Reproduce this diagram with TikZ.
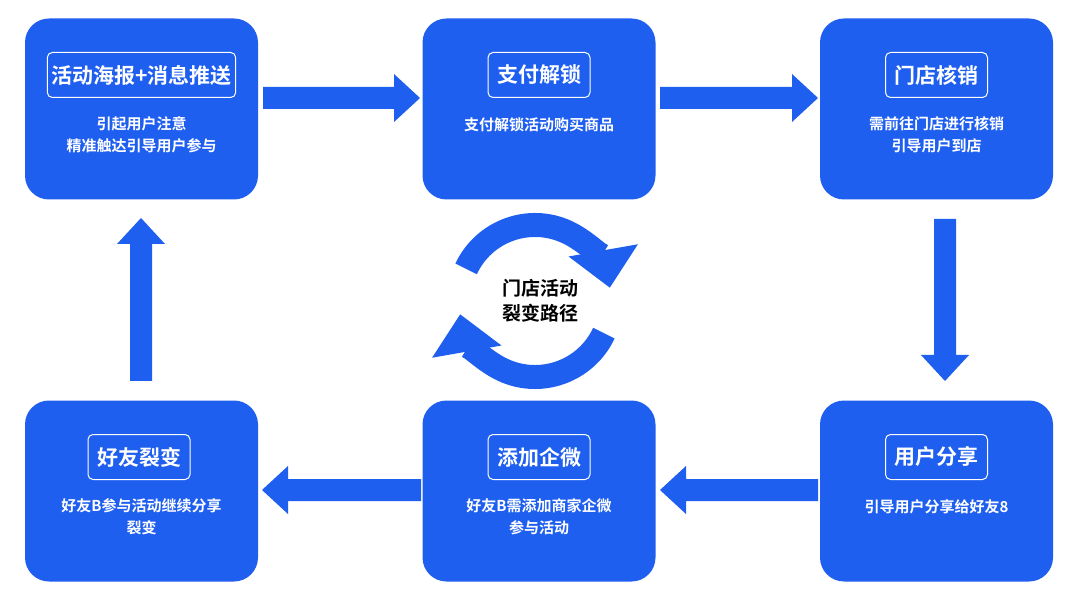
\documentclass[tikz,border=0pt]{standalone}
\usepackage{fontspec}
\setmainfont{Noto Sans CJK SC}[BoldFont={Noto Sans CJK SC Bold}]
\usetikzlibrary{arrows.meta,calc}
\definecolor{bl}{HTML}{1F5FF0}
\newcommand{\blockarrow}[4]{% x, y (start), angle, length
 \begin{scope}[shift={(#1,#2)},rotate=#3]
 \fill[bl] (0,-11) -- ({#4-26},-11) -- ({#4-26},-24) -- (#4,0) -- ({#4-26},24) -- ({#4-26},11) -- (0,11) -- cycle;
 \end{scope}}
\begin{document}
\begin{tikzpicture}[x=1pt,y=1pt,
 box/.style={fill=bl,rounded corners=24pt,minimum width=233pt,minimum height=181pt},
 ttl/.style={draw=white,line width=1pt,rounded corners=5pt,text=white,font=\bfseries\fontsize{21}{24}\selectfont,minimum height=45pt,inner xsep=9pt},
 txt/.style={text=white,font=\bfseries\fontsize{15}{22}\selectfont,align=center},
 ring/.style={draw=bl,line width=24pt,-{Triangle[width=68pt,length=38pt]}}]
\useasboundingbox (0,0) rectangle (1076,603);
\fill[white] (0,0) rectangle (1076,603);
% boxes
\node[box] (b1) at (141.5,494) {};
\node[box] (b2) at (539,494) {};
\node[box] (b3) at (936.5,494) {};
\node[box] (b4) at (141.5,112) {};
\node[box] (b5) at (539,112) {};
\node[box] (b6) at (936.5,112) {};
\node[ttl,inner xsep=4pt] (t1) at (141.5,528) {活动海报+消息推送};
\node[ttl] (t2) at (539,528) {支付解锁};
\node[ttl] (t3) at (936.5,528) {门店核销};
\node[ttl] (t4) at (139,146) {好友裂变};
\node[ttl] (t5) at (539,146) {添加企微};
\node[ttl] (t6) at (936.5,146) {用户分享};
\node[txt] (x1) at (141.5,468) {引起用户注意\\精准触达引导用户参与};
\node[txt] (x2) at (539,478) {支付解锁活动购买商品};
\node[txt] (x3) at (936.5,468) {需前往门店进行核销\\引导用户到店};
\node[txt] (x4) at (141.5,86) {好友B参与活动继续分享\\裂变};
\node[txt] (x5) at (539,86) {好友B需添加商家企微\\参与活动};
\node[txt] (x6) at (936.5,96) {引导用户分享给好友8};
% block arrows
\blockarrow{263}{505}{0}{157}
\blockarrow{660}{505}{0}{158}
\blockarrow{945}{384}{-90}{162}
\blockarrow{818}{113}{180}{158}
\blockarrow{421}{113}{180}{159}
\blockarrow{141}{222}{90}{163}
% ring
\coordinate (c) at (535,302);
\draw[ring] ($(c)+(155:76)$) arc[start angle=155,end angle=10,radius=76];
\draw[ring] ($(c)+(-25:76)$) arc[start angle=-25,end angle=-170,radius=76];
\node[font=\bfseries\fontsize{19}{25}\selectfont,align=center] (ct) at (540,302) {门店活动\\裂变路径};
\end{tikzpicture}
\end{document}
